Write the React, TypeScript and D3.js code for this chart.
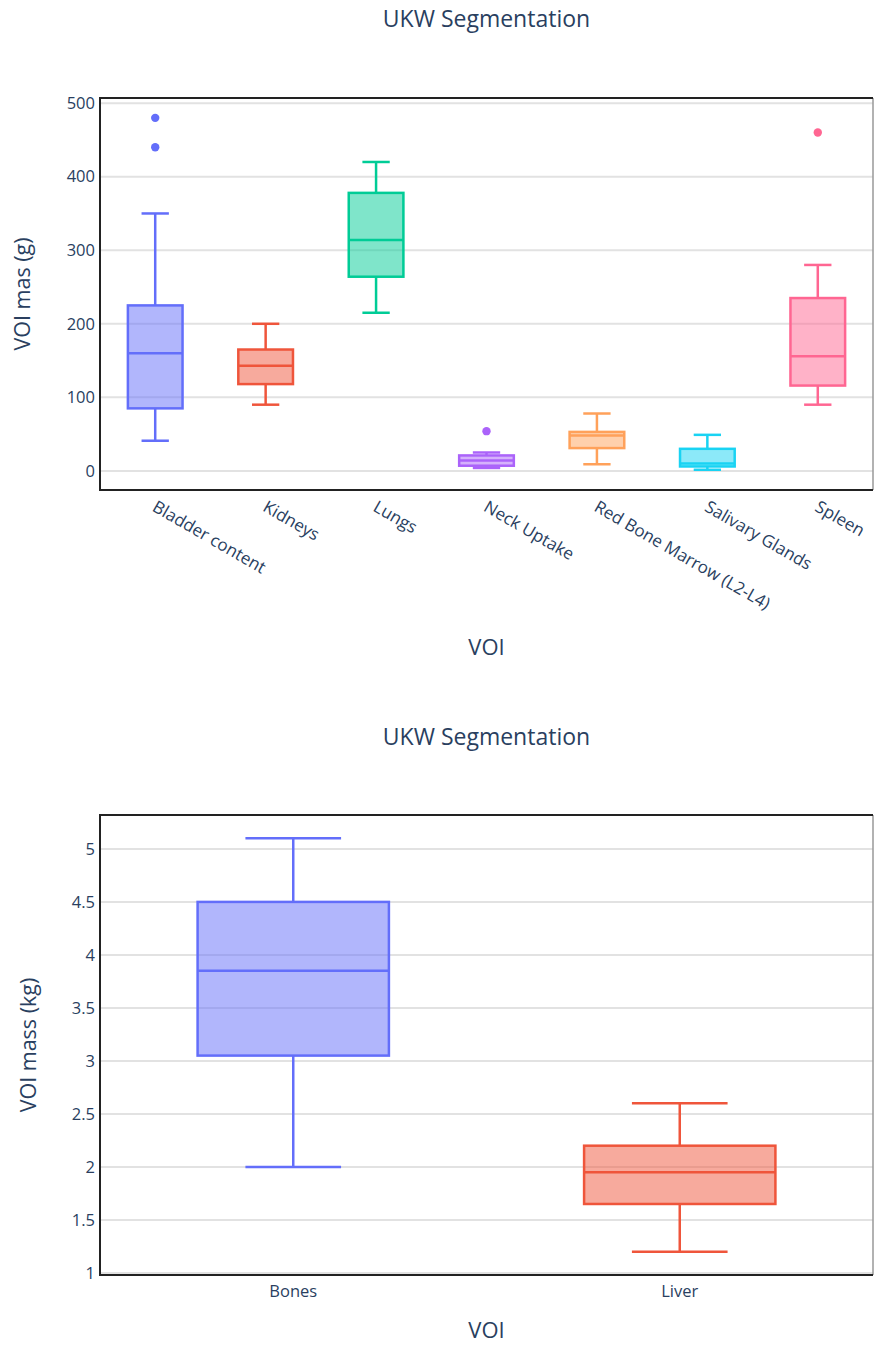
import React from "react";
import * as d3 from "d3";

const topCategories = ["Bladder content", "Kidneys", "Lungs", "Neck Uptake", "Red Bone Marrow (L2-L4)", "Salivary Glands", "Spleen"];
const topLower = [41, 90, 215, 4, 9, 1.5, 90];
const topQ1 = [85, 118, 264, 7, 31, 6, 116];
const topMedian = [160, 143, 314, 14, 48, 10, 156];
const topQ3 = [225, 165, 378, 21, 53, 30, 235];
const topUpper = [350, 200, 420, 25, 78, 49, 280];
const topOutliers = [[480, 440], [], [], [54], [], [], [460]];
const topTicks = [0, 100, 200, 300, 400, 500];

const botCategories = ["Bones", "Liver"];
const botLower = [2.0, 1.2];
const botQ1 = [3.05, 1.65];
const botMedian = [3.85, 1.95];
const botQ3 = [4.5, 2.2];
const botUpper = [5.1, 2.6];
const botOutliers: number[][] = [[], []];
const botTicks = [1, 1.5, 2, 2.5, 3, 3.5, 4, 4.5, 5];

const colors = ["#636efa", "#EF553B", "#00cc96", "#ab63fa", "#FFA15A", "#19d3f3", "#FF6692"];
const FONT = "'Open Sans', 'Noto Sans', sans-serif";
const TXT = "#2a3f5f";

type PanelProps = {
  cats: string[];
  lower: number[]; q1: number[]; med: number[]; q3: number[]; upper: number[];
  outliers: number[][];
  ticks: number[];
  domain: [number, number];
  top: number; bottom: number; left: number; right: number;
  title: string; titleY: number;
  yTitle: string; yTitleX: number;
  xTitleY: number;
  rotate: boolean;
};

function Panel(p: PanelProps) {
  const x = d3.scaleBand<string>().domain(p.cats).range([p.left, p.right]).padding(0);
  const y = d3.scaleLinear().domain(p.domain).range([p.bottom, p.top]);
  const bw = x.bandwidth() * 0.495;
  const cw = bw / 2;
  const midY = (p.top + p.bottom) / 2;
  const midX = (p.left + p.right) / 2;
  const SW = 2.5;
  return (
    <g>
      <text x={midX} y={p.titleY} textAnchor="middle" fontFamily={FONT} fontSize={23} fill={TXT}>{p.title}</text>
      {p.ticks.map((t) => (
        <g key={t}>
          <line x1={p.left} x2={p.right} y1={y(t)} y2={y(t)} stroke="#e2e2e2" strokeWidth={2} />
          <text x={p.left - 5} y={y(t)} dy="0.35em" textAnchor="end" fontFamily={FONT} fontSize={16.5} fill={TXT}>{String(t)}</text>
        </g>
      ))}
      {p.cats.map((c, i) => {
        const cx = (x(c) as number) + x.bandwidth() / 2;
        const col = colors[i % colors.length];
        return (
          <g key={c}>
            <line x1={cx} x2={cx} y1={y(p.upper[i])} y2={y(p.q3[i])} stroke={col} strokeWidth={SW} />
            <line x1={cx} x2={cx} y1={y(p.q1[i])} y2={y(p.lower[i])} stroke={col} strokeWidth={SW} />
            <line x1={cx - cw / 2} x2={cx + cw / 2} y1={y(p.upper[i])} y2={y(p.upper[i])} stroke={col} strokeWidth={SW} />
            <line x1={cx - cw / 2} x2={cx + cw / 2} y1={y(p.lower[i])} y2={y(p.lower[i])} stroke={col} strokeWidth={SW} />
            <rect x={cx - bw / 2} width={bw} y={y(p.q3[i])} height={y(p.q1[i]) - y(p.q3[i])} fill={col} fillOpacity={0.5} stroke={col} strokeWidth={SW} />
            <line x1={cx - bw / 2} x2={cx + bw / 2} y1={y(p.med[i])} y2={y(p.med[i])} stroke={col} strokeWidth={SW} />
            {p.outliers[i].map((o, j) => (
              <circle key={j} cx={cx} cy={y(o)} r={4.2} fill={col} />
            ))}
            {p.rotate ? (
              <text transform={`translate(${cx + 2},${p.bottom + 10}) rotate(30)`} dy="0.7em" textAnchor="start" fontFamily={FONT} fontSize={17} fill={TXT}>{c}</text>
            ) : (
              <text x={cx} y={p.bottom + 22} textAnchor="middle" fontFamily={FONT} fontSize={16.5} fill={TXT}>{c}</text>
            )}
          </g>
        );
      })}
      <line x1={p.right} x2={p.right} y1={p.top} y2={p.bottom} stroke="#999" strokeWidth={1.5} />
      <path d={`M${p.right},${p.top}H${p.left}V${p.bottom}H${p.right}`} fill="none" stroke="#222" strokeWidth={2} />
      <text transform={`translate(${p.yTitleX},${midY}) rotate(-90)`} textAnchor="middle" fontFamily={FONT} fontSize={21.5} fill={TXT}>{p.yTitle}</text>
      <text x={midX} y={p.xTitleY} textAnchor="middle" fontFamily={FONT} fontSize={22} fill={TXT}>VOI</text>
    </g>
  );
}

export default function App() {
  return (
    <svg width={874} height={1346} style={{ position: "absolute", left: 0, top: 0, background: "#fff" }}>
      <rect width={874} height={1346} fill="#fff" />
      <Panel
        cats={topCategories} lower={topLower} q1={topQ1} med={topMedian} q3={topQ3} upper={topUpper}
        outliers={topOutliers} ticks={topTicks} domain={[-26, 507]}
        top={98} bottom={490} left={100} right={873}
        title="UKW Segmentation" titleY={27}
        yTitle="VOI mas (g)" yTitleX={30}
        xTitleY={655} rotate={true}
      />
      <Panel
        cats={botCategories} lower={botLower} q1={botQ1} med={botMedian} q3={botQ3} upper={botUpper}
        outliers={botOutliers} ticks={botTicks} domain={[0.98, 5.32]}
        top={815} bottom={1275} left={100} right={873}
        title="UKW Segmentation" titleY={745}
        yTitle="VOI mass (kg)" yTitleX={36}
        xTitleY={1338} rotate={false}
      />
    </svg>
  );
}
